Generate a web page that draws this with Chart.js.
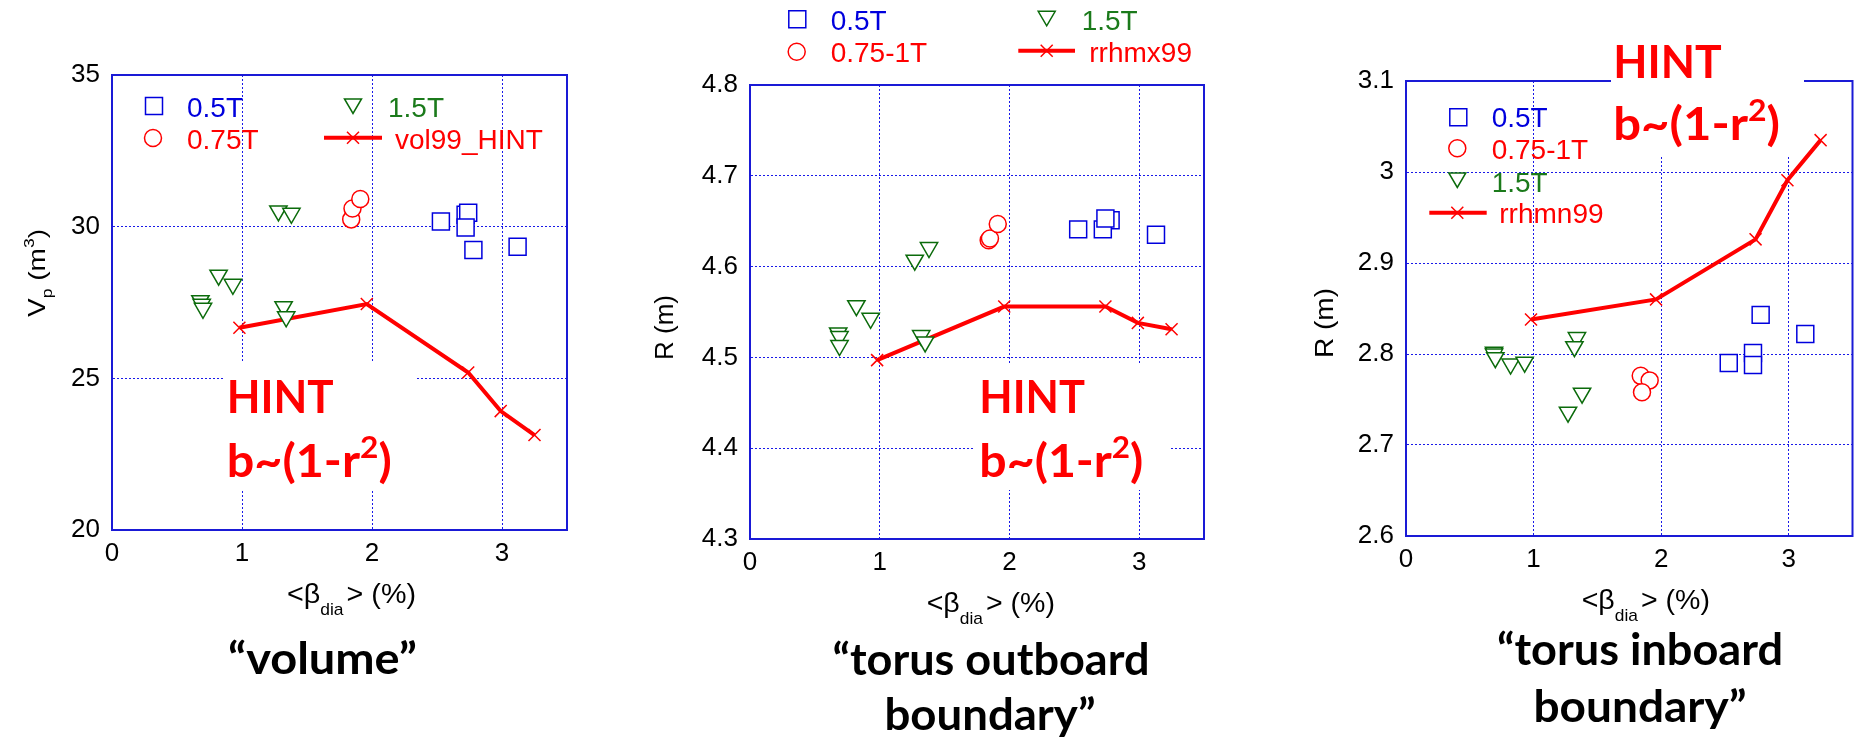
<!DOCTYPE html>
<html>
<head>
<meta charset="utf-8">
<script src="https://cdn.jsdelivr.net/npm/chart.js@4.4.0/dist/chart.umd.min.js"></script>
<style>
  body { margin: 0; background: #fff; width: 1866px; height: 738px; overflow: hidden; position: relative; }
  canvas { position: absolute; top: 0; }
</style>
</head>
<body>
<canvas id="c1" width="640" height="738" style="left:0px"></canvas>
<canvas id="c2" width="600" height="738" style="left:640px"></canvas>
<canvas id="c3" width="626" height="738" style="left:1240px"></canvas>
<script>
// ---- data: [beta_dia (%), value] ----
const hintBeta = [0.98, 1.96, 2.74, 2.99, 3.25];

// "volume"
const volSquares = [[2.53, 30.17], [2.72, 30.39], [2.74, 30.46], [2.72, 29.97], [2.78, 29.23], [3.12, 29.34]];
const volCircles = [[1.84, 30.24], [1.85, 30.60], [1.91, 30.91]];
const volTriangles = [[1.28, 30.52], [1.38, 30.44], [0.82, 28.40], [0.93, 28.10], [0.68, 27.56], [0.69, 27.44], [0.70, 27.31], [1.32, 27.36], [1.34, 27.03]];
const vol99 = [26.67, 27.45, 25.19, 23.92, 23.13];

// "torus outboard boundary"
const outSquares = [[2.78, 4.651], [2.53, 4.641], [2.72, 4.641], [2.74, 4.653], [3.13, 4.635]];
const outCircles = [[1.84, 4.629], [1.85, 4.631], [1.91, 4.647]];
const outTriangles = [[1.27, 4.607], [1.38, 4.621], [0.82, 4.557], [0.93, 4.543], [0.68, 4.527], [0.69, 4.523], [0.69, 4.513], [1.32, 4.524], [1.35, 4.517]];
const rrhmx99 = [4.497, 4.556, 4.556, 4.538, 4.531];

// "torus inboard boundary"
const inSquares = [[2.53, 2.790], [2.72, 2.801], [2.72, 2.788], [2.78, 2.843], [3.13, 2.822]];
const inCircles = [[1.84, 2.776], [1.91, 2.771], [1.85, 2.758]];
const inTriangles = [[0.69, 2.802], [0.69, 2.800], [0.70, 2.796], [0.82, 2.789], [0.93, 2.791], [1.34, 2.818], [1.32, 2.808], [1.27, 2.736], [1.38, 2.757]];
const rrhmn99 = [2.838, 2.860, 2.926, 2.991, 3.035];

// ticks
const xTicks = [0, 1, 2, 3];
const volTicks = [20, 25, 30, 35];
const outTicks = [4.3, 4.4, 4.5, 4.6, 4.7, 4.8];
const outLabels = ['4.3', '4.4', '4.5', '4.6', '4.7', '4.8'];
const inTicks = [2.6, 2.7, 2.8, 2.9, 3.0, 3.1];
const inLabels = ['2.6', '2.7', '2.8', '2.9', '3', '3.1'];

// legend texts
const volLegend = ['0.5T', '0.75T', '1.5T', 'vol99_HINT'];
const outLegend = ['0.5T', '0.75-1T', '1.5T', 'rrhmx99'];
const inLegend = ['0.5T', '0.75-1T', '1.5T', 'rrhmn99'];

// ---- styles ----
const BLUE = '#0000dd';
const RED = '#ff0000';
const GREEN = '#0b6b0b';
const GREEN_TXT = '#1b7a1b';
const FRAME = '#1a1ad6';
const GRID = 'rgba(0,0,230,0.9)';
const ARIAL = '"Liberation Sans", Arial, sans-serif';
const BOLD = '"Lato", "Open Sans", sans-serif';

function pairs(arr) { return arr.map(p => ({x: p[0], y: p[1]})); }
function linePts(ys) { return ys.map((y, i) => ({x: hintBeta[i], y: y})); }

function drawParts(ctx, parts, x, y, width, align) {
    let total = 0;
    const w = [];
    parts.forEach(pt => { ctx.font = pt.f; const m = ctx.measureText(pt.t).width + (pt.gap || 0); w.push(m); total += m; });
    const k = width ? width / total : 1;
    ctx.save();
    ctx.translate(align === 'center' ? x - total * k / 2 : x, y);
    ctx.scale(k, 1);
    let cx = 0;
    parts.forEach((pt, i) => {
        ctx.font = pt.f;
        ctx.fillStyle = pt.c || ctx.fillStyle;
        ctx.fillText(pt.t, cx, pt.dy || 0);
        cx += w[i];
    });
    ctx.restore();
}

function marker(ctx, kind, x, y, color) {
    ctx.save();
    ctx.strokeStyle = color;
    ctx.fillStyle = '#fff';
    ctx.lineWidth = 1.5;
    ctx.beginPath();
    if (kind === 'sq') ctx.rect(x - 8.5, y - 8.5, 17, 17);
    else if (kind === 'ci') ctx.arc(x, y, 8.5, 0, Math.PI * 2);
    else if (kind === 'tr') { ctx.moveTo(x - 8.5, y - 7); ctx.lineTo(x + 8.5, y - 7); ctx.lineTo(x, y + 7.5); ctx.closePath(); }
    ctx.fill();
    ctx.stroke();
    ctx.restore();
}

function legendLine(ctx, x1, x2, cx, y) {
    ctx.save();
    ctx.strokeStyle = RED;
    ctx.lineWidth = 4;
    ctx.beginPath(); ctx.moveTo(x1, y); ctx.lineTo(x2, y); ctx.stroke();
    ctx.lineWidth = 1.5;
    ctx.beginPath();
    ctx.moveTo(cx - 6, y - 6); ctx.lineTo(cx + 6, y + 6);
    ctx.moveTo(cx - 6, y + 6); ctx.lineTo(cx + 6, y - 6);
    ctx.stroke();
    ctx.restore();
}

// panel layout (canvas coordinates)
const panels = [
    {
        id: 'c1', w: 640, area: {l: 112, t: 75, w: 455, h: 455},
        yMin: 20, yMax: 35, yTicks: volTicks, yLabels: null,
        sq: volSquares, ci: volCircles, tr: volTriangles, line: vol99, legend: volLegend,
        leg: {sq: [154, 106, 187, 116.7], ci: [153, 138, 187, 149], tr: [353, 106, 388, 116.7], ln: [324, 382, 353, 137.7, 395, 149]},
        yTitle: {x: 45, y: 317, len: 88, vp: true},
        xTitle: {x: 287, y: 603, len: 129},
        caption: [{t: '\u201cvolume\u201d', x: 322.5, y: 674, w: 189}],
        hint: {box: [223, 362, 194, 128], x: 226.7, y1: 412.7, y2: 476.7, w1: 107, w2: 165}
    },
    {
        id: 'c2', w: 600, area: {l: 110, t: 85, w: 454, h: 454},
        yMin: 4.3, yMax: 4.8, yTicks: outTicks, yLabels: outLabels,
        sq: outSquares, ci: outCircles, tr: outTriangles, line: rrhmx99, legend: outLegend,
        leg: {sq: [157.3, 19.3, 190.7, 30], ci: [156.7, 51.7, 190.7, 61.7], tr: [406.7, 18.3, 441.7, 30], ln: [378.3, 435, 406.7, 50.7, 449.3, 61.7]},
        yTitle: {x: 33, y: 360, len: 65},
        xTitle: {x: 286.7, y: 612, len: 128.3},
        caption: [{t: '\u201ctorus outboard', x: 351, y: 675, w: 317}, {t: 'boundary\u201d', x: 350, y: 730, w: 211}],
        hint: {box: [333, 363, 196, 127], x: 339.3, y1: 413.3, y2: 476.7, w1: 105.7, w2: 164}
    },
    {
        id: 'c3', w: 626, area: {l: 166, t: 81, w: 455, h: 455},
        yMin: 2.6, yMax: 3.1, yTicks: inTicks, yLabels: inLabels,
        sq: inSquares, ci: inCircles, tr: inTriangles, line: rrhmn99, legend: inLegend,
        leg: {sq: [218.3, 117.3, 251.7, 127.3], ci: [217.3, 148.3, 251.7, 159], tr: [217.3, 180, 251.7, 191.7], ln: [189.3, 246.7, 217.3, 212.7, 259.3, 223.3]},
        yTitle: {x: 93, y: 358, len: 70},
        xTitle: {x: 341.7, y: 609, len: 128.3},
        caption: [{t: '\u201ctorus inboard', x: 400, y: 665, w: 286}, {t: 'boundary\u201d', x: 400, y: 721.7, w: 213}],
        hint: {box: [371, 20, 193, 136], x: 373.3, y1: 77.7, y2: 140, w1: 108.4, w2: 166.7}
    }
];

function makeDecor(p) {
    return {
        id: 'decor_' + p.id,
        beforeDatasetsDraw(chart) {
            const ctx = chart.ctx;
            const a = chart.chartArea;
            ctx.save();
            ctx.strokeStyle = FRAME;
            ctx.lineWidth = 2;
            ctx.strokeRect(a.left, a.top, a.right - a.left, a.bottom - a.top);
            const b = p.hint.box;
            ctx.fillStyle = '#fff';
            ctx.fillRect(b[0], b[1], b[2], b[3]);
            ctx.fillStyle = RED;
            ctx.textBaseline = 'alphabetic';
            drawParts(ctx, [{t: 'HINT', f: 'bold 46px ' + BOLD}], p.hint.x, p.hint.y1, p.hint.w1);
            drawParts(ctx, [
                {t: 'b~(1-r', f: 'bold 46px ' + BOLD},
                {t: '2', f: 'bold 30px ' + BOLD, dy: -19},
                {t: ')', f: 'bold 46px ' + BOLD}
            ], p.hint.x, p.hint.y2, p.hint.w2);
            ctx.restore();
        },
        afterDraw(chart) {
            const ctx = chart.ctx;
            ctx.save();
            ctx.textBaseline = 'alphabetic';
            // legend
            const L = p.leg;
            const lf = '28px ' + ARIAL;
            marker(ctx, 'sq', L.sq[0], L.sq[1], BLUE);
            marker(ctx, 'ci', L.ci[0], L.ci[1], RED);
            marker(ctx, 'tr', L.tr[0], L.tr[1], GREEN);
            legendLine(ctx, L.ln[0], L.ln[1], L.ln[2], L.ln[3]);
            drawParts(ctx, [{t: p.legend[0], f: lf, c: BLUE}], L.sq[2], L.sq[3]);
            drawParts(ctx, [{t: p.legend[1], f: lf, c: RED}], L.ci[2], L.ci[3]);
            drawParts(ctx, [{t: p.legend[2], f: lf, c: GREEN_TXT}], L.tr[2], L.tr[3]);
            drawParts(ctx, [{t: p.legend[3], f: lf, c: RED}], L.ln[4], L.ln[5]);

            // y title (rotated)
            ctx.fillStyle = '#000';
            ctx.save();
            ctx.translate(p.yTitle.x, p.yTitle.y);
            ctx.rotate(-Math.PI / 2);
            const yf = '26px ' + ARIAL;
            const parts = p.yTitle.vp ? [
                {t: 'V', f: '24px ' + ARIAL},
                {t: 'p', f: '15px ' + ARIAL, dy: 7},
                {t: ' (m', f: '24px ' + ARIAL},
                {t: '3', f: '15px ' + ARIAL, dy: -11},
                {t: ')', f: '24px ' + ARIAL}
            ] : [{t: 'R (m)', f: yf}];
            drawParts(ctx, parts, 0, 0, p.yTitle.len);
            ctx.restore();

            // x title
            drawParts(ctx, [
                {t: '<\u03b2', f: '28px ' + ARIAL},
                {t: 'dia', f: '17px ' + ARIAL, dy: 12, gap: 3},
                {t: '> (%)', f: '28px ' + ARIAL}
            ], p.xTitle.x, p.xTitle.y, p.xTitle.len);

            // caption
            p.caption.forEach(c => {
                drawParts(ctx, [{t: c.t, f: 'bold 43px ' + BOLD, c: '#000'}], c.x, c.y, c.w, 'center');
            });
            ctx.restore();
        }
    };
}

function makePanel(p) {
    const tickFont = {family: ARIAL, size: 26};
    new Chart(document.getElementById(p.id), {
        type: 'scatter',
        data: {
            datasets: [
                {data: pairs(p.sq), pointStyle: 'rect', pointRadius: 12, borderColor: BLUE, backgroundColor: '#fff', borderWidth: 1.5, showLine: false},
                {data: pairs(p.ci), pointStyle: 'circle', pointRadius: 8.5, borderColor: RED, backgroundColor: '#fff', borderWidth: 1.5, showLine: false},
                {data: pairs(p.tr), pointStyle: 'triangle', rotation: 180, pointRadius: 10, borderColor: GREEN, backgroundColor: '#fff', borderWidth: 1.5, showLine: false},
                {data: linePts(p.line), showLine: true, borderColor: RED, borderWidth: 4, fill: false, tension: 0,
                 pointStyle: 'crossRot', pointRadius: 8.5, pointBorderColor: RED, pointBorderWidth: 1.5, pointBackgroundColor: RED}
            ]
        },
        options: {
            responsive: false,
            animation: false,
            devicePixelRatio: 1,
            events: [],
            layout: {padding: {top: p.area.t, right: p.w - p.area.l - p.area.w, left: 0, bottom: 0}},
            plugins: {legend: {display: false}, tooltip: {enabled: false}},
            scales: {
                x: {
                    type: 'linear', min: 0, max: 3.5,
                    afterBuildTicks: s => { s.ticks = xTicks.map(v => ({value: v})); },
                    afterFit: s => { s.height = 738 - p.area.t - p.area.h; },
                    ticks: {font: tickFont, color: '#000', padding: 8, maxRotation: 0, autoSkip: false, callback: v => String(v)},
                    grid: {color: GRID, lineWidth: 1, drawTicks: false},
                    border: {color: FRAME, width: 2, dash: [2, 2]}
                },
                y: {
                    type: 'linear', min: p.yMin, max: p.yMax,
                    afterBuildTicks: s => { s.ticks = p.yTicks.map(v => ({value: v})); },
                    afterFit: s => { s.width = p.area.l; },
                    ticks: {font: tickFont, color: '#000', padding: 12, autoSkip: false,
                            callback: (v, i) => p.yLabels ? p.yLabels[i] : String(v)},
                    grid: {color: GRID, lineWidth: 1, drawTicks: false},
                    border: {color: FRAME, width: 2, dash: [2, 2]}
                }
            }
        },
        plugins: [makeDecor(p)]
    });
}

panels.forEach(makePanel);
</script>
</body>
</html>
